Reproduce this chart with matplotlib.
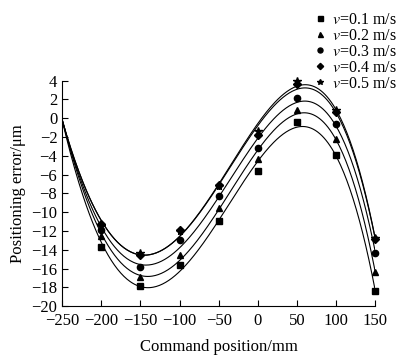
import matplotlib
matplotlib.use("Agg")
import matplotlib.pyplot as plt
import numpy as np

plt.rcParams["font.family"] = ["Liberation Serif", "DejaVu Serif"]
plt.rcParams["mathtext.fontset"] = "stix"

# command positions (mm)
position = [-250, -200, -150, -100, -50, 0, 50, 100, 150]

# positioning error (um) per feed speed
err_01 = [0, -13.7, -17.9, -15.6, -10.9, -5.6, -0.4, -3.9, -18.4]
err_02 = [0, -12.5, -16.9, -14.6, -9.6, -4.3, 0.9, -2.2, -16.4]
err_03 = [0, -11.9, -15.8, -13.0, -8.3, -3.2, 2.1, -0.6, -14.3]
err_04 = [0, -11.3, -14.6, -11.9, -7.1, -1.8, 3.6, 0.7, -12.9]
err_05 = [0, -11.5, -14.3, -12.0, -7.2, -1.4, 4.0, 0.9, -12.8]

speeds = ["0.1", "0.2", "0.3", "0.4", "0.5"]
series = [err_01, err_02, err_03, err_04, err_05]
markers = ["s", "^", "o", "D", "*"]
msizes = [4.5, 4.5, 4.5, 4.0, 5.5]

fig = plt.figure(figsize=(4.06, 3.61), dpi=100)
ax = fig.add_axes([0.153, 0.152, 0.771, 0.625])

x = np.array(position, dtype=float)
xs = np.linspace(-250, 150, 300)
handles = []
for sp, ys, mk, ms in zip(speeds, series, markers, msizes):
    coef = np.polyfit(x, ys, 4)
    ax.plot(xs, np.polyval(coef, xs), color="black", linewidth=0.8)
    h, = ax.plot(x[1:], ys[1:], linestyle="none", marker=mk, color="black",
                 markersize=ms, clip_on=False, label=f"$v$={sp} m/s")
    handles.append(h)

ax.set_xlim(-250, 150)
ax.set_ylim(-20, 4)
ax.set_xticks(np.arange(-250, 151, 50))
ax.set_yticks(np.arange(-20, 5, 2))
ax.spines["top"].set_visible(False)
ax.spines["right"].set_visible(False)
ax.tick_params(direction="in", length=4, width=0.8, labelsize=12)
ax.tick_params(axis="x", pad=5)
ax.set_xlabel("Command position/mm", fontsize=12, labelpad=7)
ax.set_ylabel("Positioning error/μm", fontsize=12, labelpad=4)

fig.legend(handles=handles, loc="upper left", bbox_to_anchor=(0.75, 0.998),
           frameon=False, fontsize=11.5, handlelength=0.5, handletextpad=0.5,
           labelspacing=0.0, borderpad=0.2, markerscale=0.8)

fig.savefig("out.png", dpi=100)
